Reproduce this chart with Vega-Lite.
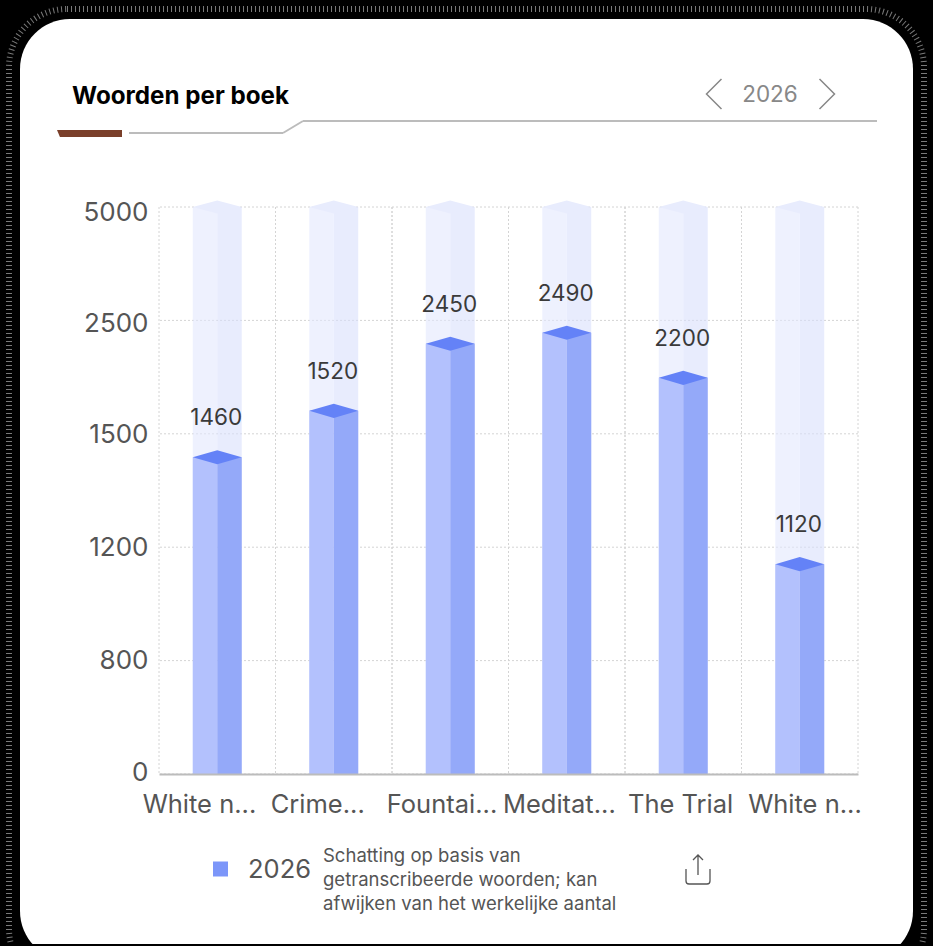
{
"$schema":"https://vega.github.io/schema/vega-lite/v6.json",
"width":699,"height":567,"autosize":"none",
"padding":{"left":159,"top":207,"right":75,"bottom":172},
"background":"#000000",
"config":{"font":"Inter","view":{"stroke":null},"text":{"font":"Inter"}},
"title":{"text":"Woorden per boek","anchor":"start","frame":"group","dx":-87,"offset":0,"dy":103,"fontSize":24.2,"fontWeight":"bold","font":"Inter","color":"#000000"},
"data":{"values":[
{"boek":"White n...","woorden":1460,"gemeten":1438},
{"boek":"Crime...","woorden":1520,"gemeten":1703},
{"boek":"Fountai...","woorden":2450,"gemeten":2294},
{"boek":"Meditat...","woorden":2490,"gemeten":2391},
{"boek":"The Trial","woorden":2200,"gemeten":1994},
{"boek":"White n... ","woorden":1120,"gemeten":1140}
]},
"layer":[
{"data":{"values":[{"deel":"rand"}]},"mark":{"type":"rect","x":-150,"x2":765,"y":-198,"y2":780,"cornerRadius":58,"fillOpacity":0,"stroke":"#7a7a7a","strokeWidth":6,"strokeDash":[1,3]},"encoding":{}},
{"data":{"values":[{"deel":"kaart"}]},"mark":{"type":"rect","x":-139,"x2":754,"y":-188,"y2":754,"cornerRadius":50,"fill":"#ffffff"},"encoding":{}},
{"data":{"values":[{"deel":"onderrand"}]},"mark":{"type":"rect","x":-159,"x2":774,"y":737,"y2":739,"fill":"#000000"},"encoding":{}},
{"data":{"values":[{"deel":"lijn"}]},"mark":{"type":"rule","stroke":"#bcbcbc","strokeWidth":2},"encoding":{"x":{"value":-30},"x2":{"value":124},"y":{"value":-74},"y2":{"value":-74}}},
{"data":{"values":[{"deel":"lijn"}]},"mark":{"type":"rule","stroke":"#bcbcbc","strokeWidth":2},"encoding":{"x":{"value":124},"x2":{"value":144},"y":{"value":-74},"y2":{"value":-86}}},
{"data":{"values":[{"deel":"lijn"}]},"mark":{"type":"rule","stroke":"#bcbcbc","strokeWidth":2},"encoding":{"x":{"value":144},"x2":{"value":718},"y":{"value":-86},"y2":{"value":-86}}},
{"data":{"values":[{"deel":"accent"}]},"mark":{"type":"point","x":-69.5,"y":-73.5,"size":4225,"shape":"M-1,-0.11L1,-0.11L1,0.11L-0.91,0.11Z","filled":true,"fill":"#7a3f2a","opacity":1,"strokeWidth":0},"encoding":{}},
{"data":{"values":[{"deel":"vorige"}]},"mark":{"type":"point","x":555,"y":-113,"size":900,"shape":"M0.5,-1L-0.5,0L0.5,1","filled":false,"stroke":"#888888","strokeWidth":1.5,"opacity":1},"encoding":{}},
{"data":{"values":[{"deel":"volgende"}]},"mark":{"type":"point","x":668,"y":-113,"size":900,"shape":"M-0.5,-1L0.5,0L-0.5,1","filled":false,"stroke":"#888888","strokeWidth":1.5,"opacity":1},"encoding":{}},
{"data":{"values":[{"deel":"jaar"}]},"mark":{"type":"text","x":611,"y":-112,"text":"2026","fontSize":22.5,"color":"#888888","align":"center","baseline":"middle"},"encoding":{}},
{"data":{"values":[{"tick":0},{"tick":800},{"tick":1200},{"tick":1500},{"tick":2500},{"tick":5000}]},"mark":{"type":"rule","stroke":"#d4d4d4","strokeWidth":1,"strokeDash":[2,2]},"encoding":{"y":{"field":"tick","type":"quantitative","title":null}}},
{"mark":{"type":"rule","stroke":"#d4d4d4","strokeWidth":1,"strokeDash":[2,2]},"encoding":{"x":{"field":"boek","type":"nominal","bandPosition":0,"title":null}}},
{"mark":{"type":"rule","stroke":"#d4d4d4","strokeWidth":1,"strokeDash":[2,2]},"encoding":{"x":{"field":"boek","type":"nominal","bandPosition":1,"title":null}}},
{"mark":{"type":"bar","width":24.5,"xOffset":-12.25,"fill":"#e3e8fd","opacity":0.6},"encoding":{
"x":{"field":"boek","type":"nominal","scale":{"domain":["White n...","Crime...","Fountai...","Meditat...","The Trial","White n... "],"paddingInner":0,"paddingOuter":0},"title":null,
"axis":{"zindex":1,"grid":false,"ticks":false,"labelAngle":0,"labelFontSize":25.5,"labelColor":"#555555","labelFont":"Inter","labelPadding":30,"labelLimit":300,"labelOverlap":false,"domainColor":"#bcbcbc","domainWidth":2,"labelOffset":{"expr":"[39,31,47,49,50,62][round(datum.index*5)]"}}},
"y":{"datum":5000,"type":"quantitative","scale":{"type":"linear","domain":[0,800,1200,1500,2500,5000],"range":[567,453.6,340.2,226.8,113.4,0],"nice":false,"zero":false},"title":null,
"axis":{"zindex":1,"values":[0,800,1200,1500,2500,5000],"format":"d","grid":false,"ticks":false,"domain":false,"labelFontSize":26,"labelColor":"#555555","labelFont":"Inter","labelPadding":11,"labelOverlap":false,"labelOffset":{"expr":"[-2,0,0,1,3,5][round(datum.index*5)]"}}},
"y2":{"datum":0}}},
{"mark":{"type":"bar","width":24.5,"xOffset":12.25,"fill":"#d8dffc","opacity":0.6},"encoding":{"x":{"field":"boek","type":"nominal","title":null},"y":{"datum":5000,"type":"quantitative","title":null},"y2":{"datum":0}}},
{"mark":{"type":"point","shape":"M-1,0L0,-0.27L1,0L0,0.27Z","size":2401,"filled":true,"fill":"#e8ecfd","opacity":1,"strokeWidth":0},"encoding":{"x":{"field":"boek","type":"nominal","title":null},"y":{"datum":5000,"type":"quantitative","title":null}}},
{"mark":{"type":"bar","width":24.5,"xOffset":-12.25,"fill":"#b3c1fd"},"encoding":{"x":{"field":"boek","type":"nominal","title":null},"y":{"field":"gemeten","type":"quantitative","title":null},"y2":{"datum":0}}},
{"mark":{"type":"bar","width":24.5,"xOffset":12.25,"fill":"#94a9f9"},"encoding":{"x":{"field":"boek","type":"nominal","title":null},"y":{"field":"gemeten","type":"quantitative","title":null},"y2":{"datum":0}}},
{"mark":{"type":"point","shape":"M-1,0L0,-0.29L1,0L0,0.29Z","size":2401,"filled":true,"fill":"#6482f7","opacity":1,"strokeWidth":0},"encoding":{"x":{"field":"boek","type":"nominal","title":null},"y":{"field":"gemeten","type":"quantitative","title":null}}},
{"mark":{"type":"text","fontSize":22.5,"color":"#3a3a3a","dy":-39,"dx":-1,"align":"center","baseline":"middle"},"encoding":{"x":{"field":"boek","type":"nominal","title":null},"y":{"field":"gemeten","type":"quantitative","title":null},"text":{"field":"woorden","type":"quantitative","format":"d"}}},
{"data":{"values":[{"deel":"legenda"}]},"mark":{"type":"point","x":61.5,"y":662,"shape":"square","size":225,"filled":true,"fill":"#7c96f9","opacity":1,"strokeWidth":0},"encoding":{}},
{"data":{"values":[{"deel":"legenda"}]},"mark":{"type":"text","x":89,"y":663,"text":"2026","fontSize":25.5,"color":"#555555","align":"left","baseline":"middle"},"encoding":{}},
{"data":{"values":[{"deel":"noot"}]},"mark":{"type":"text","x":164,"y":649,"text":["Schatting op basis van","getranscribeerde woorden; kan","afwijken van het werkelijke aantal"],"lineHeight":24,"fontSize":18.5,"color":"#555555","align":"left","baseline":"middle"},"encoding":{}},
{"data":{"values":[{"deel":"delen"}]},"mark":{"type":"point","x":539,"y":663,"size":4,"shape":"M-12,-1V11Q-12,14 -9,14H9Q12,14 12,11V-1M0,5V-15M-5,-10L0,-15L5,-10","filled":false,"stroke":"#555555","strokeWidth":1.3,"opacity":1},"encoding":{}}
]
}
